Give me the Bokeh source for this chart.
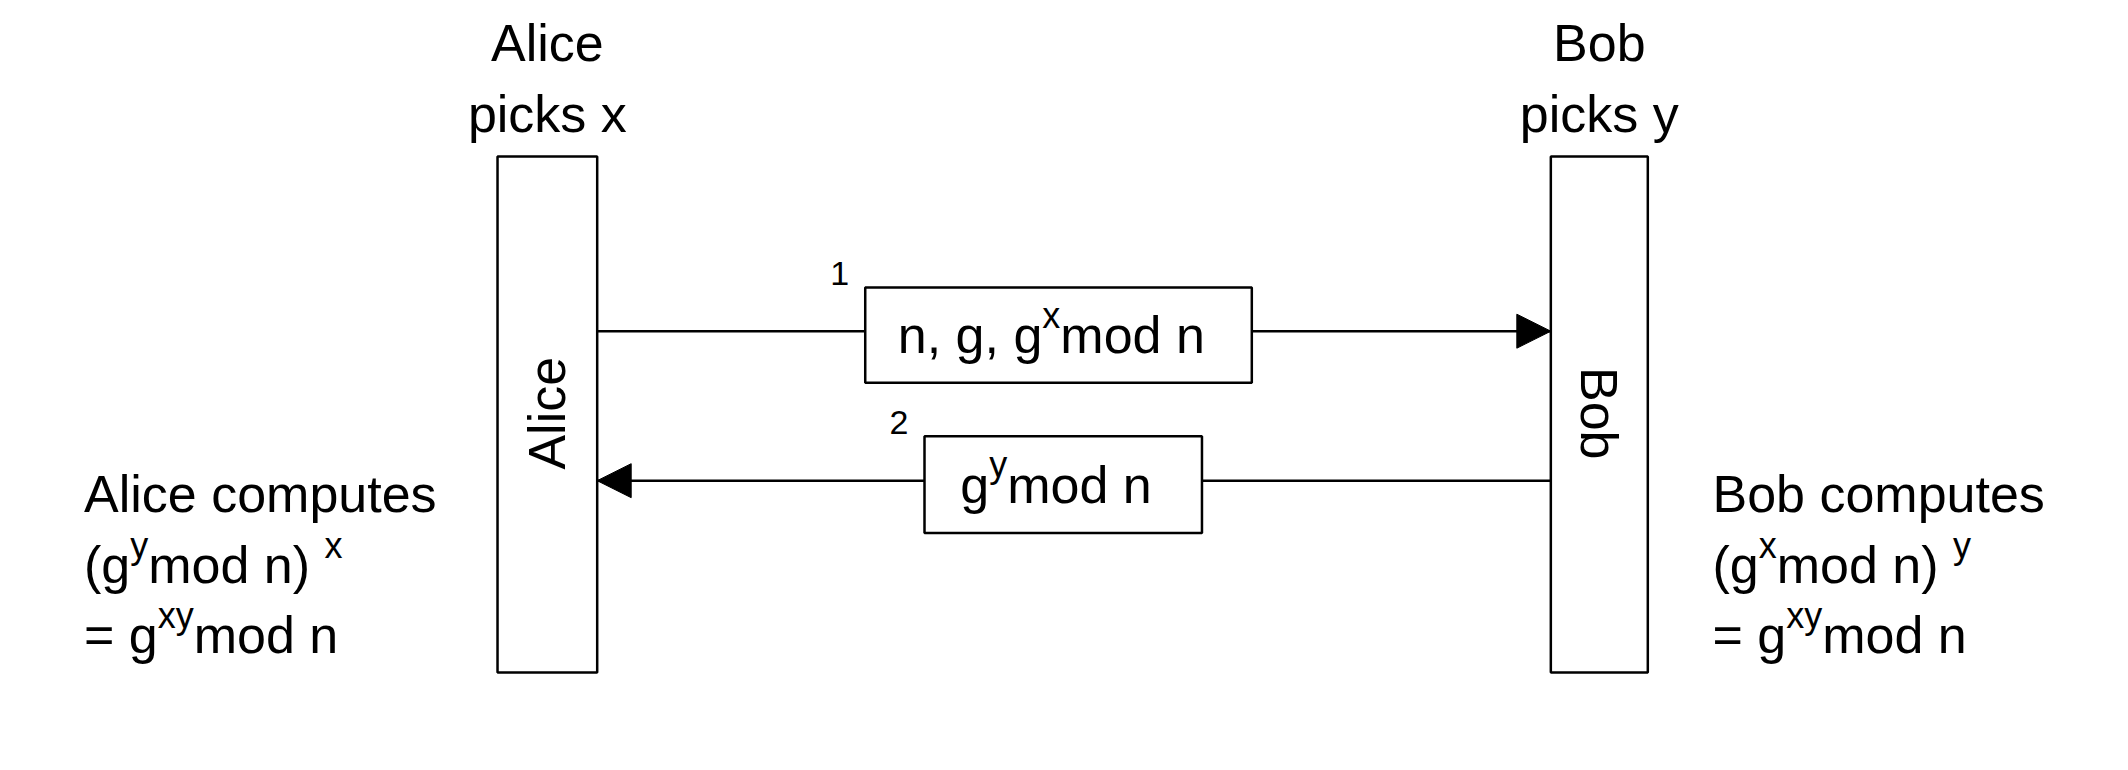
from bokeh.plotting import figure
from bokeh.models import Range1d, Arrow, NormalHead
from bokeh.core.properties import value
from bokeh.embed import file_html
from bokeh.resources import INLINE

# lifelines
life_names = ["Alice", "Bob"]
life_x0 = [369, 1151]
life_x1 = [443, 1223]
life_top = [118, 118]
life_bot = [508, 508]
header_lines = [["Alice", "picks x"], ["Bob", "picks y"]]

# messages
msg_num = ["1", "2"]
msg_y = [250, 363]
msg_from = [443, 1151]
msg_to = [1151, 443]
box_x0 = [642, 686]
box_x1 = [929, 892]
box_h = [72, 73]
# message text segments (text, is_superscript)
msg_segs = [
    [("n, g, g", False), ("x", True), (" mod n", False)],
    [("g", False), ("y", True), (" mod n", False)],
]
left_x, right_x = 62, 1271
comp_y = [373, 427, 480]
alice_comp = [
    [("Alice computes", False)],
    [("(g", False), ("y", True), (" mod n)", False), ("x", True)],
    [("= g", False), ("xy", True), ("  mod n", False)],
]
bob_comp = [
    [("Bob computes", False)],
    [("(g", False), ("x", True), (" mod n)", False), ("y", True)],
    [("= g", False), ("xy", True), ("  mod n", False)],
]

W, H = 2112, 754
SCALE = W / 1568
MAIN_PX, SUP_PX = 52, 36
MAIN, SUP = f"{MAIN_PX}px", f"{SUP_PX}px"
ADV = {'a': .556, 'b': .556, 'c': .5, 'd': .556, 'e': .556, 'g': .556, 'i': .222,
       'k': .5, 'l': .222, 'm': .833, 'n': .556, 'o': .556, 'p': .556, 's': .5,
       't': .278, 'u': .556, 'x': .5, 'y': .5, 'A': .667, 'B': .667, '(': .333,
       ')': .333, ',': .278, ' ': .278, '=': .584}

def width(s, px):
    return sum(ADV.get(c, .556) for c in s) * px / SCALE

p = figure(width=W, height=H, output_backend="svg", toolbar_location=None,
           x_range=Range1d(0, 1568), y_range=Range1d(570, 0), min_border=0)
p.axis.visible = False
p.grid.visible = False
p.outline_line_color = None

FONT = value("Liberation Sans")
LW = 2.5

def draw_segs(segs, x, y):
    for s, sup in segs:
        px = SUP_PX if sup else MAIN_PX
        p.text(x=[x], y=[y - (15 if sup else 0)], text=[s], text_align="left",
               text_baseline="middle", text_font=FONT, text_font_size=f"{px}px")
        x += width(s, px)

# messages: lines first (under boxes)
for num, y, xf, xt, bx0, bx1, bh, segs in zip(msg_num, msg_y, msg_from, msg_to,
                                               box_x0, box_x1, box_h, msg_segs):
    p.segment(x0=[xf], y0=[y], x1=[xt], y1=[y], line_color="black", line_width=LW)
    d = 1 if xt > xf else -1
    p.add_layout(Arrow(end=NormalHead(size=34, fill_color="black", line_color="black"),
                       x_start=xt - d * 2, y_start=y, x_end=xt, y_end=y,
                       line_color="black", line_width=LW))
    top = y - bh / 2 + 3
    p.quad(left=bx0, right=bx1, top=top, bottom=top + bh, fill_color="white",
           line_color="black", line_width=LW)
    p.text(x=[bx0 - 12], y=[top - 2], text=[num], text_align="right",
           text_baseline="bottom", text_font=FONT, text_font_size="34px")
    total = sum(width(s, SUP_PX if sup else MAIN_PX) for s, sup in segs)
    draw_segs(segs, (bx0 + bx1) / 2 - total / 2, y + 3)

# lifeline bars
for x0, x1, t, b in zip(life_x0, life_x1, life_top, life_bot):
    p.quad(left=x0, right=x1, top=t, bottom=b, fill_color="white",
           line_color="black", line_width=LW)
for lines, x0, x1 in zip(header_lines, life_x0, life_x1):
    cx = (x0 + x1) / 2
    for i, ln in enumerate(lines):
        p.text(x=[cx], y=[32 + 54 * i], text=[ln], text_align="center",
               text_baseline="middle", text_font=FONT, text_font_size=MAIN)
angles = [1.5708, -1.5708]
for nm, x0, x1, a in zip(life_names, life_x0, life_x1, angles):
    p.text(x=[(x0 + x1) / 2], y=[312], text=[nm], angle=a, text_align="center",
           text_baseline="middle", text_font=FONT, text_font_size=MAIN)

# computations
for base, comp in ((left_x, alice_comp), (right_x, bob_comp)):
    for yy, segs in zip(comp_y, comp):
        draw_segs(segs, base, yy)

open("out.html", "w").write(file_html(p, INLINE))
